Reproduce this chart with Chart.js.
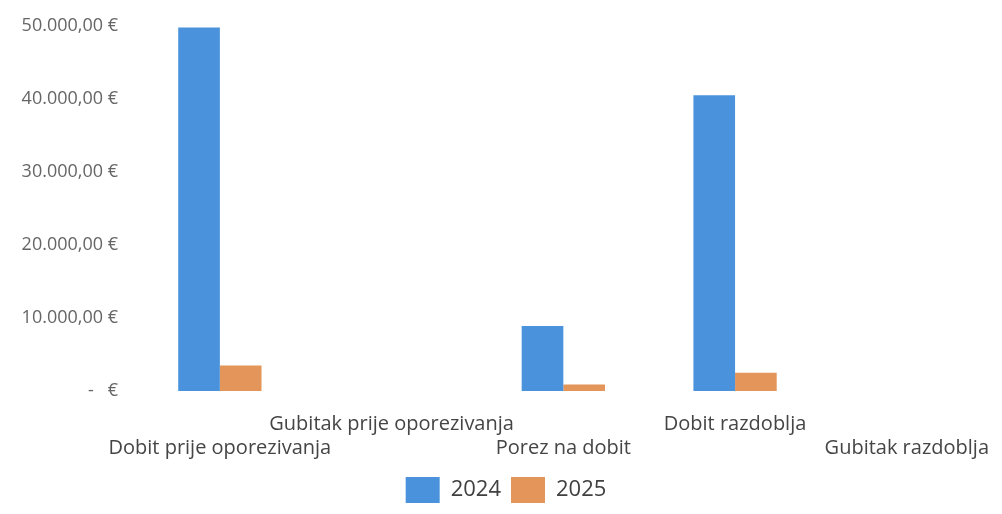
<!DOCTYPE html>
<html>
<head>
<meta charset="utf-8">
<script src="https://cdn.jsdelivr.net/npm/chart.js@4"></script>
<style>
html,body{margin:0;padding:0;background:#fff;}
#wrap{width:1002px;height:514px;}
</style>
</head>
<body>
<div id="wrap"><canvas id="c" width="1002" height="514"></canvas></div>
<script>
const categories = ["Dobit prije oporezivanja", "Gubitak prije oporezivanja", "Porez na dobit", "Dobit razdoblja", "Gubitak razdoblja"];
const series2024 = [49800, 0, 8900, 40500, 0];
const series2025 = [3500, 0, 900, 2500, 0];
const yTicks = [0, 10000, 20000, 30000, 40000, 50000];
const seriesNames = ["2024", "2025"];

// staggered labels like Excel: even indices on a lower line
const xLabels = categories.map((c, i) => i % 2 === 0 ? ["", c] : [c]);

function fmtEuro(v) {
  if (v === 0) return "-   €";
  const s = Math.round(v).toString().replace(/\B(?=(\d{3})+(?!\d))/g, ".");
  return s + ",00 €";
}

new Chart(document.getElementById('c'), {
  type: 'bar',
  data: {
    labels: xLabels,
    datasets: [
      { label: seriesNames[0], data: series2024, backgroundColor: '#4a93dc', borderWidth: 0 },
      { label: seriesNames[1], data: series2025, backgroundColor: '#e3955a', borderWidth: 0 }
    ]
  },
  options: {
    responsive: false,
    animation: false,
    layout: { padding: { top: 26, right: 0, left: 10, bottom: 1 } },
    datasets: { bar: { categoryPercentage: 0.485, barPercentage: 1.0 } },
    scales: {
      x: {
        grid: { display: false },
        border: { display: false },
        afterFit: (axis) => { axis.height = 76; },
        ticks: {
          autoSkip: false, maxRotation: 0, minRotation: 0,
          color: '#454545',
          font: { family: 'Open Sans', size: 20 },
          padding: 13
        }
      },
      y: {
        min: 0, max: 50000,
        afterBuildTicks: (axis) => { axis.ticks = yTicks.map(v => ({ value: v })); },
        afterFit: (axis) => { axis.width = 124; },
        grid: { display: false },
        border: { display: false },
        ticks: {
          color: '#666666',
          font: { family: 'Open Sans', size: 18 },
          padding: 8,
          callback: (v) => fmtEuro(v)
        }
      }
    },
    plugins: {
      legend: {
        position: 'bottom',
        labels: {
          boxWidth: 34, boxHeight: 26,
          color: '#404040',
          font: { family: 'Open Sans', size: 22 },
          padding: 10
        }
      },
      tooltip: { enabled: false }
    }
  }
});
</script>
</body>
</html>
